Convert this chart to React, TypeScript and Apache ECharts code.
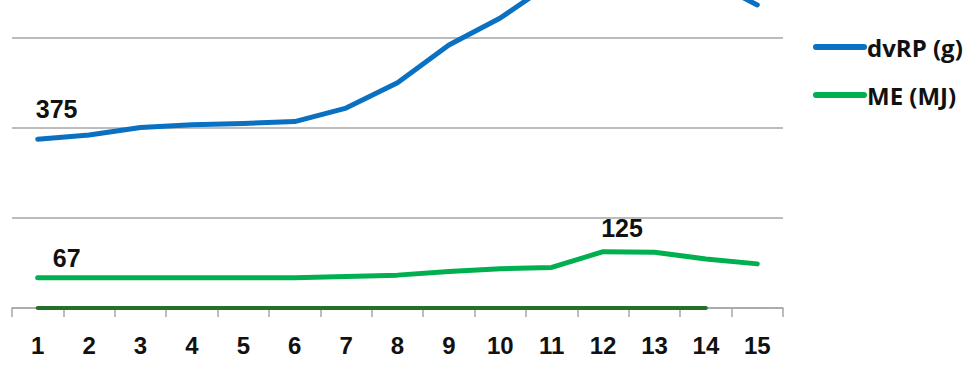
import React, { useEffect, useRef } from "react";
import * as echarts from "echarts";

// Weeks along the horizontal axis
const categories = ["1", "2", "3", "4", "5", "6", "7", "8", "9", "10", "11", "12", "13", "14", "15"];

// Daily requirements
const dvrpValues = [375, 384, 401, 407, 410, 414, 444, 500, 584, 644, 722, 760, 762, 732, 673];
const meValues = [67, 67, 67, 67, 67, 67, 70, 73, 81, 87, 90, 125, 124, 109, 98];
const baseValues = [0, 0, 0, 0, 0, 0, 0, 0, 0, 0, 0, 0, 0, 0, null];

const seriesNames = ["dvRP (g)", "ME (MJ)"];
const yTicks = { min: 0, max: 684, interval: 200 };

// Which points carry a value label
const dvrpLabelIdx = [0];
const meLabelIdx = [0, 11];

const FONT = "'Liberation Sans', Arial, sans-serif";

export default function App() {
  const ref = useRef<HTMLDivElement>(null);

  useEffect(() => {
    document.body.style.margin = "0";
    if (!ref.current) return;
    const chart = echarts.init(ref.current, null, { renderer: "svg" });

    const labelStyle = {
      show: true,
      align: "center",
      verticalAlign: "middle",
      color: "#111",
      fontFamily: FONT,
      fontWeight: "bold",
      fontSize: 25,
    };

    // label centre placed relative to the point it annotates
    const withLabels = (vals: (number | null)[], idx: number[], shifts: number[][]) =>
      vals.map((v, i) => {
        const k = idx.indexOf(i);
        if (k < 0) return v;
        return { value: v, label: { ...labelStyle, position: shifts[k] } };
      });

    const lineSeries = (name: string, color: string, data: any[], width: number, z: number) => ({
      name,
      type: "line",
      symbol: "circle",
      symbolSize: 0.1,
      showSymbol: true,
      showAllSymbol: true,
      color,
      lineStyle: { width, cap: "round", join: "round" },
      label: { show: false },
      labelLayout: { hideOverlap: false },
      data,
      z,
    });

    chart.setOption({
      animation: false,
      backgroundColor: "#ffffff",
      grid: { left: 12, right: 190, top: 0, bottom: 60, containLabel: false },
      legend: {
        orient: "vertical",
        left: 808,
        top: 30,
        itemWidth: 54,
        itemHeight: 6,
        itemGap: 24,
        icon: "path://M3,0 H51 A3,3 0 0 1 51,6 H3 A3,3 0 0 1 3,0 Z",
        data: seriesNames,
        textStyle: {
          fontFamily: "'Open Sans', sans-serif",
          fontWeight: "bold",
          fontSize: 24,
          color: "#111",
          padding: [0, 0, 0, -5],
        },
      },
      xAxis: {
        type: "category",
        data: categories,
        boundaryGap: true,
        axisLine: { lineStyle: { color: "#a6a6a6", width: 1.5 } },
        axisTick: { show: true, interval: 0, length: 9, lineStyle: { color: "#a6a6a6", width: 1.5 } },
        axisLabel: {
          interval: 0,
          margin: 25,
          color: "#111",
          fontFamily: FONT,
          fontWeight: "bold",
          fontSize: 24,
        },
      },
      yAxis: {
        type: "value",
        min: yTicks.min,
        max: yTicks.max,
        interval: yTicks.interval,
        axisLine: { show: false },
        axisTick: { show: false },
        axisLabel: { show: false },
        splitLine: { showMaxLine: false, lineStyle: { color: "#a6a6a6", width: 1.5 } },
      },
      series: [
        lineSeries(seriesNames[0], "#0a70c2", withLabels(dvrpValues, dvrpLabelIdx, [[19, -30]]), 5, 3),
        lineSeries(seriesNames[1], "#00b050", withLabels(meValues, meLabelIdx, [[29, -20], [19, -24]]), 5, 3),
        lineSeries("base", "#22702a", baseValues, 4, 2),
      ],
    });

    return () => chart.dispose();
  }, []);

  return <div ref={ref} style={{ width: 973, height: 368 }} />;
}
